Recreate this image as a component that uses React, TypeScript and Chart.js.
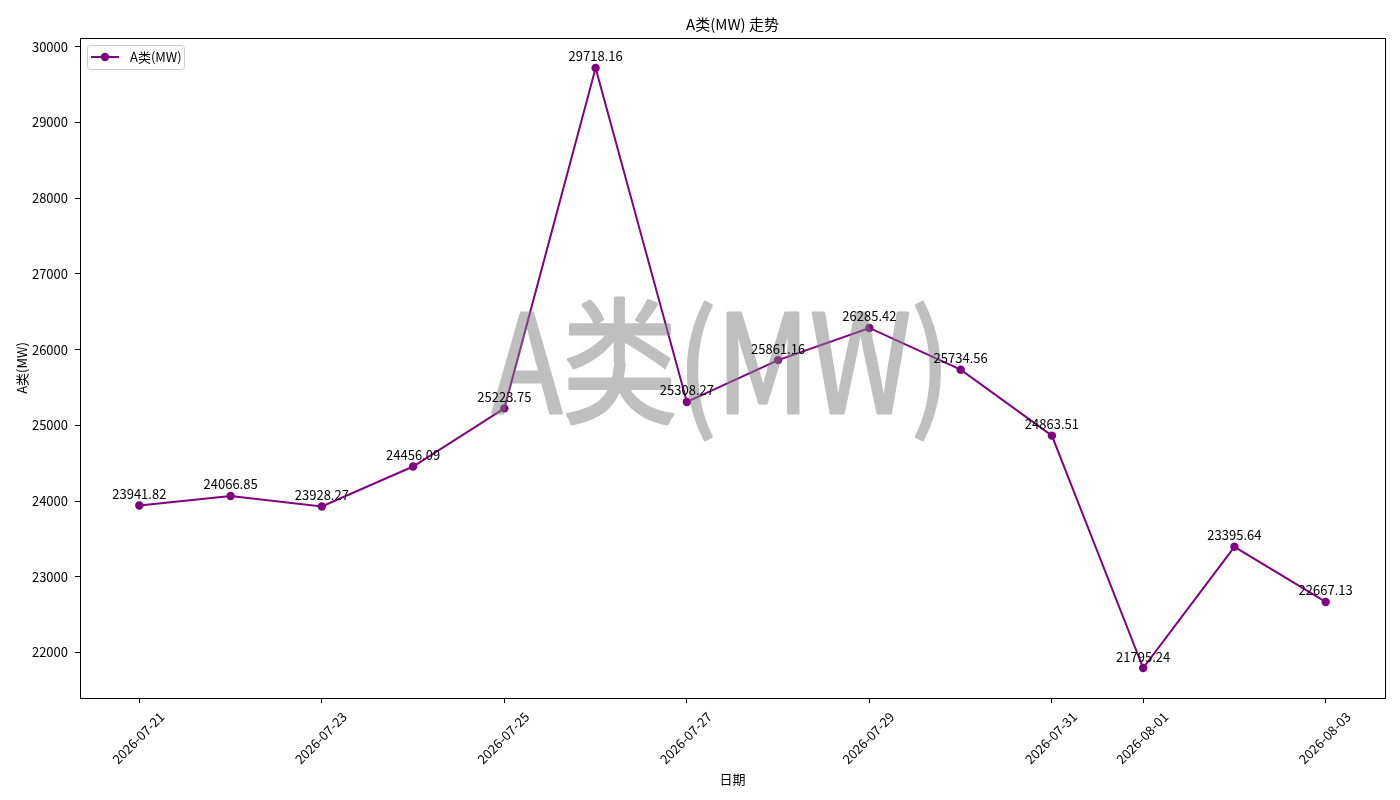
import React, { useEffect, useRef } from "react";
import { Chart, registerables } from "chart.js";

Chart.register(...registerables);

const dates = [
  "2026-07-21", "2026-07-22", "2026-07-23", "2026-07-24", "2026-07-25",
  "2026-07-26", "2026-07-27", "2026-07-28", "2026-07-29", "2026-07-30",
  "2026-07-31", "2026-08-01", "2026-08-02", "2026-08-03",
];
const values = [
  23941.82, 24066.85, 23928.27, 24456.09, 25223.75, 29718.16, 25308.27,
  25861.16, 26285.42, 25734.56, 24863.51, 21795.24, 23395.64, 22667.13,
];
const xTickIndex = [0, 2, 4, 6, 8, 10, 11, 13];
const yTicks = [22000, 23000, 24000, 25000, 26000, 27000, 28000, 29000, 30000];

const seriesName = "A类(MW)";
const chartTitle = "A类(MW) 走势";
const xTitle = "日期";
const FONT = '"Noto Sans CJK SC", "DejaVu Sans", sans-serif';

const decor = {
  id: "decor",
  afterDatasetsDraw(chart: any) {
    const { ctx, chartArea } = chart;
    const meta = chart.getDatasetMeta(0);

    // watermark: drawn opaque on a scratch canvas, then laid over at half alpha
    const off = document.createElement("canvas");
    off.width = chart.width;
    off.height = chart.height;
    const o = off.getContext("2d")!;
    o.font = `136px ${FONT}`;
    o.textBaseline = "alphabetic";
    o.textAlign = "left";
    const m = o.measureText(seriesName);
    const inkW = m.actualBoundingBoxLeft + m.actualBoundingBoxRight;
    o.translate(492, 413);
    o.scale(448 / inkW, 1);
    o.fillStyle = "rgb(128,128,128)";
    o.strokeStyle = "rgb(128,128,128)";
    o.lineWidth = 3;
    o.lineJoin = "round";
    o.fillText(seriesName, m.actualBoundingBoxLeft, 0);
    o.strokeText(seriesName, m.actualBoundingBoxLeft, 0);
    ctx.save();
    ctx.globalAlpha = 0.5;
    ctx.drawImage(off, 0, 0);
    ctx.restore();

    // value labels
    ctx.save();
    ctx.font = `13px ${FONT}`;
    ctx.fillStyle = "#000";
    ctx.textAlign = "center";
    ctx.textBaseline = "alphabetic";
    meta.data.forEach((pt: any, i: number) => {
      ctx.fillText(values[i].toFixed(2), pt.x, pt.y - 6.5);
    });
    ctx.restore();

    // frame
    ctx.save();
    ctx.strokeStyle = "#000";
    ctx.lineWidth = 1;
    ctx.strokeRect(
      Math.round(chartArea.left) + 0.5,
      Math.round(chartArea.top) + 0.5,
      Math.round(chartArea.right - chartArea.left),
      Math.round(chartArea.bottom - chartArea.top)
    );
    ctx.restore();
  },
  afterDraw(chart: any) {
    const { ctx, chartArea, scales } = chart;
    ctx.save();
    ctx.fillStyle = "#000";

    // title
    ctx.font = `15px ${FONT}`;
    ctx.textAlign = "center";
    ctx.textBaseline = "middle";
    ctx.fillText(chartTitle, (chartArea.left + chartArea.right) / 2, 24);

    // axis titles
    ctx.font = `13px ${FONT}`;
    ctx.fillText(xTitle, (chartArea.left + chartArea.right) / 2, 779);
    ctx.save();
    ctx.translate(22, (chartArea.top + chartArea.bottom) / 2);
    ctx.rotate(-Math.PI / 2);
    ctx.fillText(seriesName, 0, 0);
    ctx.restore();

    // rotated x tick labels
    ctx.font = `13px ${FONT}`;
    xTickIndex.forEach((idx) => {
      const x = scales.x.getPixelForValue(idx);
      ctx.save();
      ctx.translate(x - 1, 738);
      ctx.rotate(-Math.PI / 4);
      ctx.textAlign = "center";
      ctx.textBaseline = "middle";
      ctx.fillText(dates[idx], 0, 0);
      ctx.restore();
    });

    // legend
    const bx = 87, by = 45, bw = 97, bh = 24;
    ctx.fillStyle = "rgba(255,255,255,0.8)";
    ctx.strokeStyle = "#cccccc";
    ctx.lineWidth = 1;
    ctx.beginPath();
    ctx.roundRect(bx + 0.5, by + 0.5, bw, bh, 3);
    ctx.fill();
    ctx.stroke();
    ctx.strokeStyle = "purple";
    ctx.lineWidth = 2;
    ctx.beginPath();
    ctx.moveTo(91, 57);
    ctx.lineTo(119, 57);
    ctx.stroke();
    ctx.fillStyle = "purple";
    ctx.beginPath();
    ctx.arc(105, 57, 4.2, 0, Math.PI * 2);
    ctx.fill();
    ctx.fillStyle = "#000";
    ctx.font = `13px ${FONT}`;
    ctx.textAlign = "left";
    ctx.textBaseline = "middle";
    ctx.fillText(seriesName, 130, 57);

    ctx.restore();
  },
};

const App: React.FC = () => {
  const chartRef = useRef<HTMLCanvasElement>(null);
  const chartInstanceRef = useRef<Chart | null>(null);

  useEffect(() => {
    if (!chartRef.current) return;
    if (chartInstanceRef.current) chartInstanceRef.current.destroy();

    chartInstanceRef.current = new Chart(chartRef.current, {
      type: "line",
      data: {
        datasets: [
          {
            label: seriesName,
            data: values.map((v, i) => ({ x: i, y: v })),
            borderColor: "purple",
            backgroundColor: "purple",
            borderWidth: 2,
            pointRadius: 4.2,
            pointBackgroundColor: "purple",
            pointBorderWidth: 0,
            tension: 0,
            fill: false,
          },
        ],
      },
      options: {
        responsive: false,
        animation: false,
        devicePixelRatio: 1,
        layout: { padding: { top: 38, right: 15, bottom: 0, left: 0 } },
        scales: {
          x: {
            type: "linear",
            min: -0.65,
            max: 13.65,
            afterBuildTicks: (scale: any) => {
              scale.ticks = xTickIndex.map((v) => ({ value: v }));
            },
            afterFit: (scale: any) => {
              scale.height = 102;
            },
            ticks: { display: false },
            border: { display: false },
            grid: {
              display: true,
              drawOnChartArea: false,
              drawTicks: true,
              tickLength: 5,
              color: "#000",
            },
          },
          y: {
            type: "linear",
            min: 21399.1,
            max: 30114.3,
            afterBuildTicks: (scale: any) => {
              scale.ticks = yTicks.map((v) => ({ value: v }));
            },
            afterFit: (scale: any) => {
              scale.width = 80;
            },
            ticks: {
              color: "#000",
              padding: 7,
              font: { family: FONT, size: 13 },
              callback: (v: any) => String(v),
            },
            border: { display: false },
            grid: {
              display: true,
              drawOnChartArea: false,
              drawTicks: true,
              tickLength: 5,
              color: "#000",
            },
          },
        },
        plugins: {
          legend: { display: false },
          title: { display: false },
          tooltip: { enabled: false },
        },
      },
      plugins: [decor],
    });

    return () => {
      if (chartInstanceRef.current) {
        chartInstanceRef.current.destroy();
        chartInstanceRef.current = null;
      }
    };
  }, []);

  return (
    <div style={{ position: "fixed", left: 0, top: 0, width: 1400, height: 800, background: "#fff" }}>
      <canvas ref={chartRef} width={1400} height={800} />
    </div>
  );
};

export default App;
